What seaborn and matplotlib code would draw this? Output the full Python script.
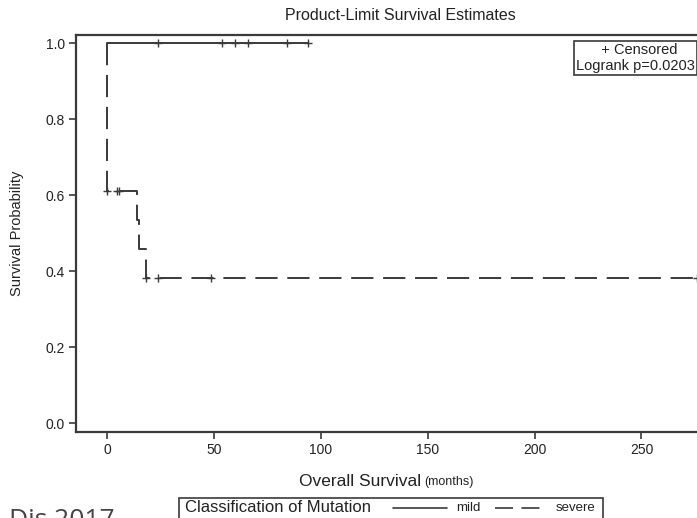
import numpy as np
import pandas as pd
import matplotlib
matplotlib.use("Agg")
import matplotlib.pyplot as plt
from matplotlib.lines import Line2D
from matplotlib.patches import Rectangle
import seaborn as sns

# Kaplan-Meier step data
mild_time = [0, 94]
mild_surv = [1.0, 1.0]
mild_cens_time = [24, 54, 60, 66, 84, 94]
mild_cens_surv = [1.0, 1.0, 1.0, 1.0, 1.0, 1.0]

severe_time = [0, 0, 14.2, 15.1, 18.2, 276]
severe_surv = [1.0, 0.61, 0.535, 0.458, 0.382, 0.382]
severe_cens_time = [0, 4.5, 5.8, 18.2, 24, 48.5, 276]
severe_cens_surv = [0.61, 0.61, 0.61, 0.382, 0.382, 0.382, 0.382]

x_ticks = [0, 50, 100, 150, 200, 250]
y_ticks = [0.0, 0.2, 0.4, 0.6, 0.8, 1.0]

sns.set_style("ticks")
plt.rcParams['font.family'] = ['Liberation Sans', 'DejaVu Sans']
plt.rcParams['lines.scale_dashes'] = False

ink = '#3a3a3a'
fig = plt.figure(figsize=(6.97, 5.18), dpi=100)
W, H = 697, 518
# axes runs past the right edge, as in the cropped reference
ax = fig.add_axes([76 / W, 1 - 432 / H, 651 / W, (432 - 34.7) / H])

sns.lineplot(x=mild_time, y=mild_surv, ax=ax, drawstyle='steps-post',
             color=ink, linewidth=1.4, estimator=None, sort=False)
sns.lineplot(x=severe_time, y=severe_surv, ax=ax, drawstyle='steps-post',
             color=ink, linewidth=1.4, linestyle=(0, (16, 7)),
             estimator=None, sort=False)
sns.scatterplot(x=mild_cens_time, y=mild_cens_surv, ax=ax, marker='+',
                s=40, color=ink, linewidth=1.0)
sns.scatterplot(x=severe_cens_time, y=severe_cens_surv, ax=ax, marker='+',
                s=40, color=ink, linewidth=1.0)

ax.set_xlim(-14.5, 290)
ax.set_ylim(-0.0237, 1.0226)
ax.set_xticks(x_ticks)
ax.set_yticks(y_ticks)
ax.set_yticklabels([f'{v:.1f}' for v in y_ticks])
ax.tick_params(direction='out', length=5, width=1.2, color=ink,
               labelsize=10, labelcolor='#222222', pad=3)
for side in ['left', 'bottom', 'top']:
    ax.spines[side].set_linewidth(1.6)
    ax.spines[side].set_color(ink)
ax.spines['right'].set_visible(False)
ax.set_xlabel('')
ax.set_ylabel('Survival Probability', fontsize=10.5, color='#222222')
ax.yaxis.set_label_coords(-0.08, 0.5)

fig.text(400 / W, 1 - 16 / H, 'Product-Limit Survival Estimates',
         ha='center', va='center', fontsize=11.5, color='#222222')
fig.text(421 / W, 1 - 482 / H, 'Overall Survival', ha='right', va='center',
         fontsize=12.5, color='#222222')
fig.text(424 / W, 1 - 482 / H, '(months)', ha='left', va='center',
         fontsize=9, color='#222222')

# inset box with censor note and logrank p-value
fig.text(576 / W, 1 - 58 / H, '  + Censored\nLogrank p=0.0203', ha='left',
         va='center', fontsize=10.5, color='#222222', multialignment='center',
         linespacing=1.15,
         bbox=dict(boxstyle='square,pad=0.15', fc='white', ec=ink, lw=1.2))

# bottom legend (cut off by the image edge)
fig.patches.append(Rectangle((179 / W, -0.02), (603 - 179) / W,
                             1 - 497.7 / H + 0.02, transform=fig.transFigure,
                             fill=False, ec=ink, lw=1.2))
fig.text(185 / W, 1 - 508 / H, 'Classification of Mutation', ha='left',
         va='center', fontsize=12, color='#222222')
fig.lines.append(Line2D([393 / W, 447 / W], [1 - 508 / H] * 2,
                        transform=fig.transFigure, color=ink, lw=1.2))
fig.text(456 / W, 1 - 508 / H, 'mild', ha='left', va='center',
         fontsize=9.5, color='#222222')
fig.lines.append(Line2D([495 / W, 542 / W], [1 - 508 / H] * 2,
                        transform=fig.transFigure, color=ink, lw=1.2,
                        linestyle=(0, (13, 6))))
fig.text(556 / W, 1 - 508 / H, 'severe', ha='left', va='center',
         fontsize=9.5, color='#222222')

fig.text(9 / W, 1 - 508 / H, 'Dis 2017', ha='left', va='top',
         fontsize=19, color='#444444', family=['Open Sans', 'DejaVu Sans'])

fig.savefig('out.png', dpi=100)
